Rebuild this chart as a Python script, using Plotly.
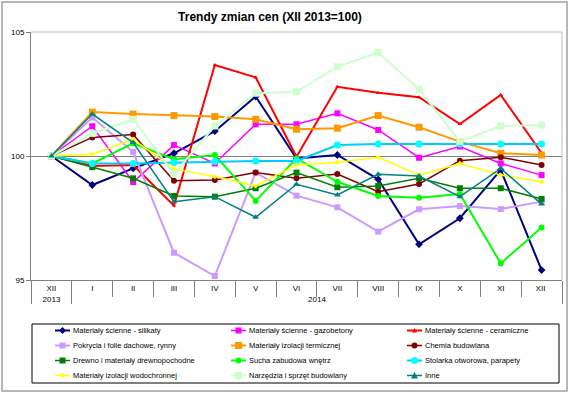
import plotly.graph_objects as go

years = ["2013"] + ["2014"] * 12
# trailing space keeps the second "XII" a distinct category that sorts last
months = ["XII", "I", "II", "III", "IV", "V", "VI", "VII", "VIII", "IX", "X", "XI", "XII "]
y_ticks = [95, 100, 105]

silikaty = [100, 98.83, 99.5, 100.11, 101.0, 102.4, 99.9, 100.04, 99.06, 96.44, 97.49, 99.44, 95.4]
gazobetony = [100, 101.2, 98.95, 100.44, 99.7, 101.28, 101.28, 101.72, 101.05, 99.93, 100.38, 99.7, 99.23]
ceramiczne = [100, 99.6, 99.64, 98.0, 103.67, 103.17, 99.97, 102.79, 102.55, 102.37, 101.29, 102.46, 100.12]
pokrycia = [100, 101.55, 100.17, 96.1, 95.16, 99.33, 98.4, 97.93, 96.95, 97.85, 97.98, 97.86, 98.16]
izol_term = [100, 101.77, 101.69, 101.63, 101.59, 101.48, 101.08, 101.12, 101.63, 101.16, 100.58, 100.11, 100.04]
chemia = [100, 100.75, 100.87, 99.0, 99.03, 99.33, 99.1, 99.27, 98.56, 98.87, 99.81, 99.95, 99.64]
drewno = [100, 99.55, 99.1, 98.39, 98.36, 98.7, 99.33, 98.74, 98.79, 99.1, 98.7, 98.7, 98.27]
sucha = [100, 99.7, 100.51, 99.87, 100.04, 98.19, 99.9, 98.96, 98.39, 98.32, 98.47, 95.67, 97.12]
stolarka = [100, 99.7, 99.7, 99.74, 99.78, 99.8, 99.8, 100.44, 100.48, 100.48, 100.48, 100.48, 100.48]
wodochronne = [100, 100.07, 100.67, 99.48, 99.17, 98.79, 99.64, 99.75, 99.95, 99.23, 99.7, 99.23, 98.96]
narzedzia = [100, 100.91, 101.48, 99.28, 101.21, 102.53, 102.59, 103.6, 104.17, 102.69, 100.58, 101.21, 101.24]
inne = [100, 101.69, 100.54, 98.16, 98.36, 97.53, 98.86, 98.43, 99.26, 99.19, 98.36, 99.5, 98.06]

series = [
    ("Materiały ścienne - silikaty", silikaty, "#000080", "#000080", "diamond", 6, 2),
    ("Materiały ścienne - gazobetony", gazobetony, "#FF00FF", "#FF00FF", "square", 6, 1.5),
    ("Materiały ścienne - ceramiczne", ceramiczne, "#FF0000", "#FF0000", "triangle-up", 4, 2),
    ("Pokrycia i folie dachowe, rynny", pokrycia, "#CC99FF", "#CC99FF", "square", 6, 2),
    ("Materiały izolacji termicznej", izol_term, "#FF9900", "#FF9900", "square", 7, 2),
    ("Chemia budowlana", chemia, "#800000", "#800000", "circle", 6, 1.5),
    ("Drewno i materiały drewnopochodne", drewno, "#008000", "#008000", "square", 6, 1.5),
    ("Sucha zabudowa wnętrz", sucha, "#00FF00", "#00FF00", "circle", 6, 2),
    ("Stolarka otworowa, parapety", stolarka, "#00CCFF", "#00FFFF", "circle", 7, 2),
    ("Materiały izolacji wodochronnej", wodochronne, "#FFFF00", "#FFFF00", "diamond", 4, 1.5),
    ("Narzędzia i sprzęt budowlany", narzedzia, "#CCFFCC", "#CCFFCC", "square", 7, 2),
    ("Inne", inne, "#008080", "#008080", "triangle-up", 6, 1.5),
]

fig = go.Figure()
for name, vals, lc, mc, sym, ms, lw in series:
    fig.add_trace(go.Scatter(
        x=[years, months], y=vals, name=name, mode="lines+markers",
        line=dict(color=lc, width=lw),
        marker=dict(color=mc, symbol=sym, size=ms, line=dict(width=0)),
        showlegend=False,
    ))

W, H = 570, 394
L, R, T, B = 31, 8, 32, 114
pw, ph = W - L - R, H - T - B


def px(x):
    return (x - L) / pw


def py(y):
    return (T + ph - y) / ph


shapes = [
    dict(type="line", xref="paper", yref="paper", x0=0, x1=1, y0=1, y1=1,
         line=dict(color="#C0C0C0", width=1)),
    dict(type="line", xref="paper", yref="paper", x0=1, x1=1, y0=0, y1=1,
         line=dict(color="#C0C0C0", width=1)),
    # outer chart frame
    dict(type="rect", xref="paper", yref="paper",
         x0=px(2), x1=px(567), y0=py(391), y1=py(2),
         line=dict(color="#A0A0A0", width=1.5), layer="below"),
    # legend frame
    dict(type="rect", xref="paper", yref="paper",
         x0=px(32), x1=px(559), y0=py(383), y1=py(324),
         line=dict(color="#000000", width=1), layer="below"),
]
annotations = []

# legend key layout (3 columns x 4 rows, filled row-wise)
col_x = [55, 231, 407]
row_y = [330.5, 345.5, 360.5, 375.5]
key_len = 15
for i, (name, vals, lc, mc, sym, ms, lw) in enumerate(series):
    cx = col_x[i % 3]
    cy = row_y[i // 3]
    shapes.append(dict(type="line", xref="paper", yref="paper",
                       x0=px(cx), x1=px(cx + key_len), y0=py(cy), y1=py(cy),
                       line=dict(color=lc, width=lw)))
    mx = cx + key_len / 2
    h = ms / 2
    if sym == "square":
        shapes.append(dict(type="rect", xref="paper", yref="paper",
                           x0=px(mx - h), x1=px(mx + h), y0=py(cy + h), y1=py(cy - h),
                           fillcolor=mc, line=dict(width=0)))
    elif sym == "circle":
        shapes.append(dict(type="circle", xref="paper", yref="paper",
                           x0=px(mx - h), x1=px(mx + h), y0=py(cy + h), y1=py(cy - h),
                           fillcolor=mc, line=dict(width=0)))
    elif sym == "diamond":
        path = "M{},{} L{},{} L{},{} L{},{} Z".format(
            px(mx), py(cy - h - 0.5), px(mx + h + 0.5), py(cy),
            px(mx), py(cy + h + 0.5), px(mx - h - 0.5), py(cy))
        shapes.append(dict(type="path", xref="paper", yref="paper", path=path,
                           fillcolor=mc, line=dict(width=0)))
    else:  # triangle-up
        path = "M{},{} L{},{} L{},{} Z".format(
            px(mx), py(cy - h - 0.5), px(mx + h + 0.5), py(cy + h),
            px(mx - h - 0.5), py(cy + h))
        shapes.append(dict(type="path", xref="paper", yref="paper", path=path,
                           fillcolor=mc, line=dict(width=0)))
    annotations.append(dict(text=name, xref="paper", yref="paper",
                            x=px(cx + key_len + 0.5), y=py(cy),
                            xanchor="left", yanchor="middle", showarrow=False,
                            font=dict(size=7.5, color="#000000")))

fig.update_layout(
    width=W, height=H,
    margin=dict(l=L, r=R, t=T, b=B, autoexpand=False),
    paper_bgcolor="white", plot_bgcolor="white",
    font=dict(family="Arial, Liberation Sans, sans-serif", size=8, color="#000000"),
    title=dict(text="<b>Trendy zmian cen (XII 2013=100)</b>",
               font=dict(size=12, color="#000000"),
               x=270 / W, xref="container", xanchor="center",
               y=1 - 17 / H, yref="container", yanchor="middle"),
    showlegend=False,
    hovermode=False,
    xaxis=dict(
        type="multicategory", showgrid=False, automargin=False,
        showline=True, linecolor="#808080", linewidth=1,
        ticks="outside", ticklen=16, tickcolor="#808080",
        dividercolor="#808080", dividerwidth=1,
        tickfont=dict(size=8, color="#000000"),
        range=[-0.5, 12.5],
    ),
    yaxis=dict(
        range=[95, 105], tickvals=y_ticks, ticktext=[str(v) for v in y_ticks],
        showgrid=True, gridcolor="#808080", gridwidth=1, automargin=False,
        showline=True, linecolor="#808080", linewidth=1,
        ticks="outside", ticklen=4, tickcolor="#808080",
        tickfont=dict(size=8, color="#000000"), zeroline=False,
    ),
    shapes=shapes,
    annotations=annotations,
)

fig.write_html("out.html", config={"displayModeBar": False},
               post_script="document.body.style.margin='0';")
